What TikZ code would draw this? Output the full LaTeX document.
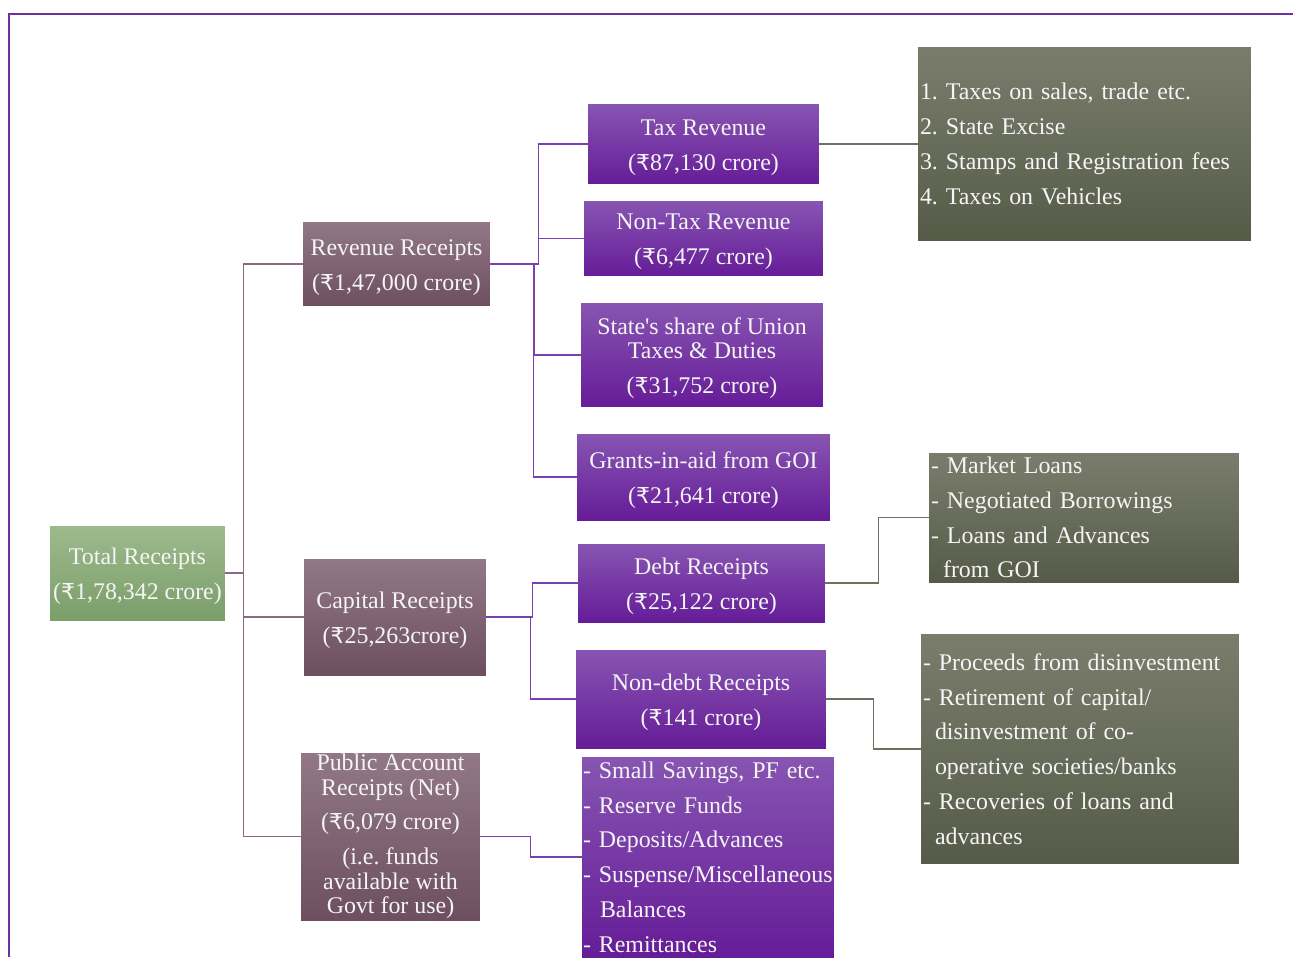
\documentclass[tikz,border=0pt]{standalone}
\usepackage{fontspec}
\setmainfont{Liberation Serif}
\newfontfamily\rupeefont[Scale=0.92]{DejaVu Sans}
\newcommand{\rupee}{{\rupeefont ₹}}
\newcommand{\dropstrut}{\rule{0pt}{13pt}}
\usepackage{tikz}
\usetikzlibrary{positioning,calc}
\definecolor{framepurple}{HTML}{7030A0}
\definecolor{greentop}{HTML}{9DBA8D}
\definecolor{greenbot}{HTML}{7B9E6A}
\definecolor{mauvetop}{HTML}{927887}
\definecolor{mauvebot}{HTML}{6D4F60}
\definecolor{purptop}{HTML}{8755B2}
\definecolor{purpbot}{HTML}{661C98}
\definecolor{graytop}{HTML}{7A7D6C}
\definecolor{graybot}{HTML}{565B48}
\definecolor{mauveline}{HTML}{8A6A80}
\definecolor{purpline}{HTML}{7B3FB4}
\definecolor{grayline}{HTML}{6E715F}
\frenchspacing
\hyphenpenalty=10000
\hbadness=10000
\tikzset{
  boxtext/.style={text=white!96!black, font=\fontsize{13.6}{19.8}\selectfont, inner sep=0pt, align=center},
  totalbox/.style={boxtext, top color=greentop, bottom color=greenbot},
  groupbox/.style={boxtext, top color=mauvetop, bottom color=mauvebot},
  headbox/.style={boxtext, top color=purptop, bottom color=purpbot},
  listbox/.style={boxtext, top color=purptop, bottom color=purpbot, align=left, inner xsep=0.04cm},
  detailbox/.style={boxtext, top color=graytop, bottom color=graybot, align=left, inner xsep=0.04cm},
  topline/.style={draw=mauveline, line width=0.8pt},
  revline/.style={draw=purpline, line width=0.9pt},
  detline/.style={draw=grayline, line width=0.8pt},
  frameline/.style={draw=framepurple, line width=1.1pt}
}

\begin{document}
\begin{tikzpicture}[x=0.02cm, y=-0.02cm]
  \useasboundingbox (0,0) rectangle (1293,957);
  \draw[frameline] (8,14) -- (1293,14);
  \draw[frameline] (9,14) -- (9,957);

  \node[totalbox, minimum width=3.5cm, minimum height=1.88cm] (total) at (137.5,573) {\dropstrut Total Receipts\\(\rupee1,78,342 crore)};
  \node[groupbox, minimum width=3.74cm, minimum height=1.68cm] (rev) at (396.5,264) {\dropstrut Revenue Receipts\\(\rupee1,47,000 crore)};
  \node[groupbox, minimum width=3.64cm, minimum height=2.32cm] (cap) at (395,617) {\dropstrut Capital Receipts\\(\rupee25,263crore)};
  \node[groupbox, minimum width=3.58cm, minimum height=3.34cm] (pub) at (390.5,836.5) {Public Account\\[-5.8pt]Receipts (Net)\\(\rupee6,079 crore)\\(i.e. funds\\[-5.8pt]available with\\[-5.8pt]Govt for use)};

  \node[headbox, minimum width=4.62cm, minimum height=1.6cm] (tax) at (703.5,144) {\dropstrut Tax Revenue\\(\rupee87,130 crore)};
  \node[headbox, minimum width=4.78cm, minimum height=1.5cm] (nontax) at (703.5,238.5) {\dropstrut Non-Tax Revenue\\(\rupee6,477 crore)};
  \node[headbox, minimum width=4.84cm, minimum height=2.08cm] (share) at (702,355) {\dropstrut State\textquotesingle s share of Union\\[-5.6pt]Taxes \& Duties\\(\rupee31,752 crore)};
  \node[headbox, minimum width=5.06cm, minimum height=1.72cm] (grants) at (703.5,477) {\dropstrut Grants-in-aid from GOI\\(\rupee21,641 crore)};
  \node[headbox, minimum width=4.94cm, minimum height=1.56cm] (debt) at (701.5,583) {\dropstrut Debt Receipts\\(\rupee25,122 crore)};
  \node[headbox, minimum width=5.0cm, minimum height=1.96cm] (nondebt) at (701,699) {\dropstrut Non-debt Receipts\\(\rupee141 crore)};
  \node[listbox, text width=5.0cm, inner xsep=0.02cm, minimum height=4.0cm] (publist) at (708,857) {- Small Savings, PF etc.\\- Reserve Funds\\- Deposits/Advances\\- Suspense/Miscellaneous\\\hspace*{0.34cm}Balances\\- Remittances};

  \node[detailbox, text width=6.58cm, minimum height=3.88cm] (taxlist) at (1084.5,144) {1. Taxes on sales, trade etc.\\2. State Excise\\3. Stamps and Registration fees\\4. Taxes on Vehicles};
  \node[detailbox, text width=6.12cm, minimum height=2.58cm] (debtlist) at (1084,517.5) {- Market Loans\\- Negotiated Borrowings\\- Loans and Advances\\\hspace*{0.24cm}from GOI};
  \node[detailbox, text width=6.28cm, minimum height=4.6cm] (nondebtlist) at (1080,749) {- Proceeds from disinvestment\\- Retirement of capital/\\\hspace*{0.24cm}disinvestment of co-\\\hspace*{0.24cm}operative societies/banks\\- Recoveries of loans and\\\hspace*{0.24cm}advances};

  \draw[topline] (total.east) -- ++(18,0) |- (rev.west);
  \draw[topline] (total.east) -- ++(18,0) |- (cap.west);
  \draw[topline] (total.east) -- ++(18,0) |- (pub.west);

  \draw[revline] (rev.east) -- ++(48,0) |- (tax.west);
  \draw[revline] (rev.east) -- ++(48,0) |- (nontax.west);
  \draw[revline] (rev.east) -- ++(44,0) |- (share.west);
  \draw[revline] (rev.east) -- ++(43,0) |- (grants.west);
  \draw[revline] (cap.east) -- ++(46,0) |- (debt.west);
  \draw[revline] (cap.east) -- ++(44,0) |- (nondebt.west);
  \draw[revline] (pub.east) -- ++(50,0) |- (publist.west);

  \draw[detline] (tax.east) -- (taxlist.west);
  \draw[detline] (debt.east) -- ++(53,0) |- (debtlist.west);
  \draw[detline] (nondebt.east) -- ++(47,0) |- (nondebtlist.west);
\end{tikzpicture}
\end{document}
